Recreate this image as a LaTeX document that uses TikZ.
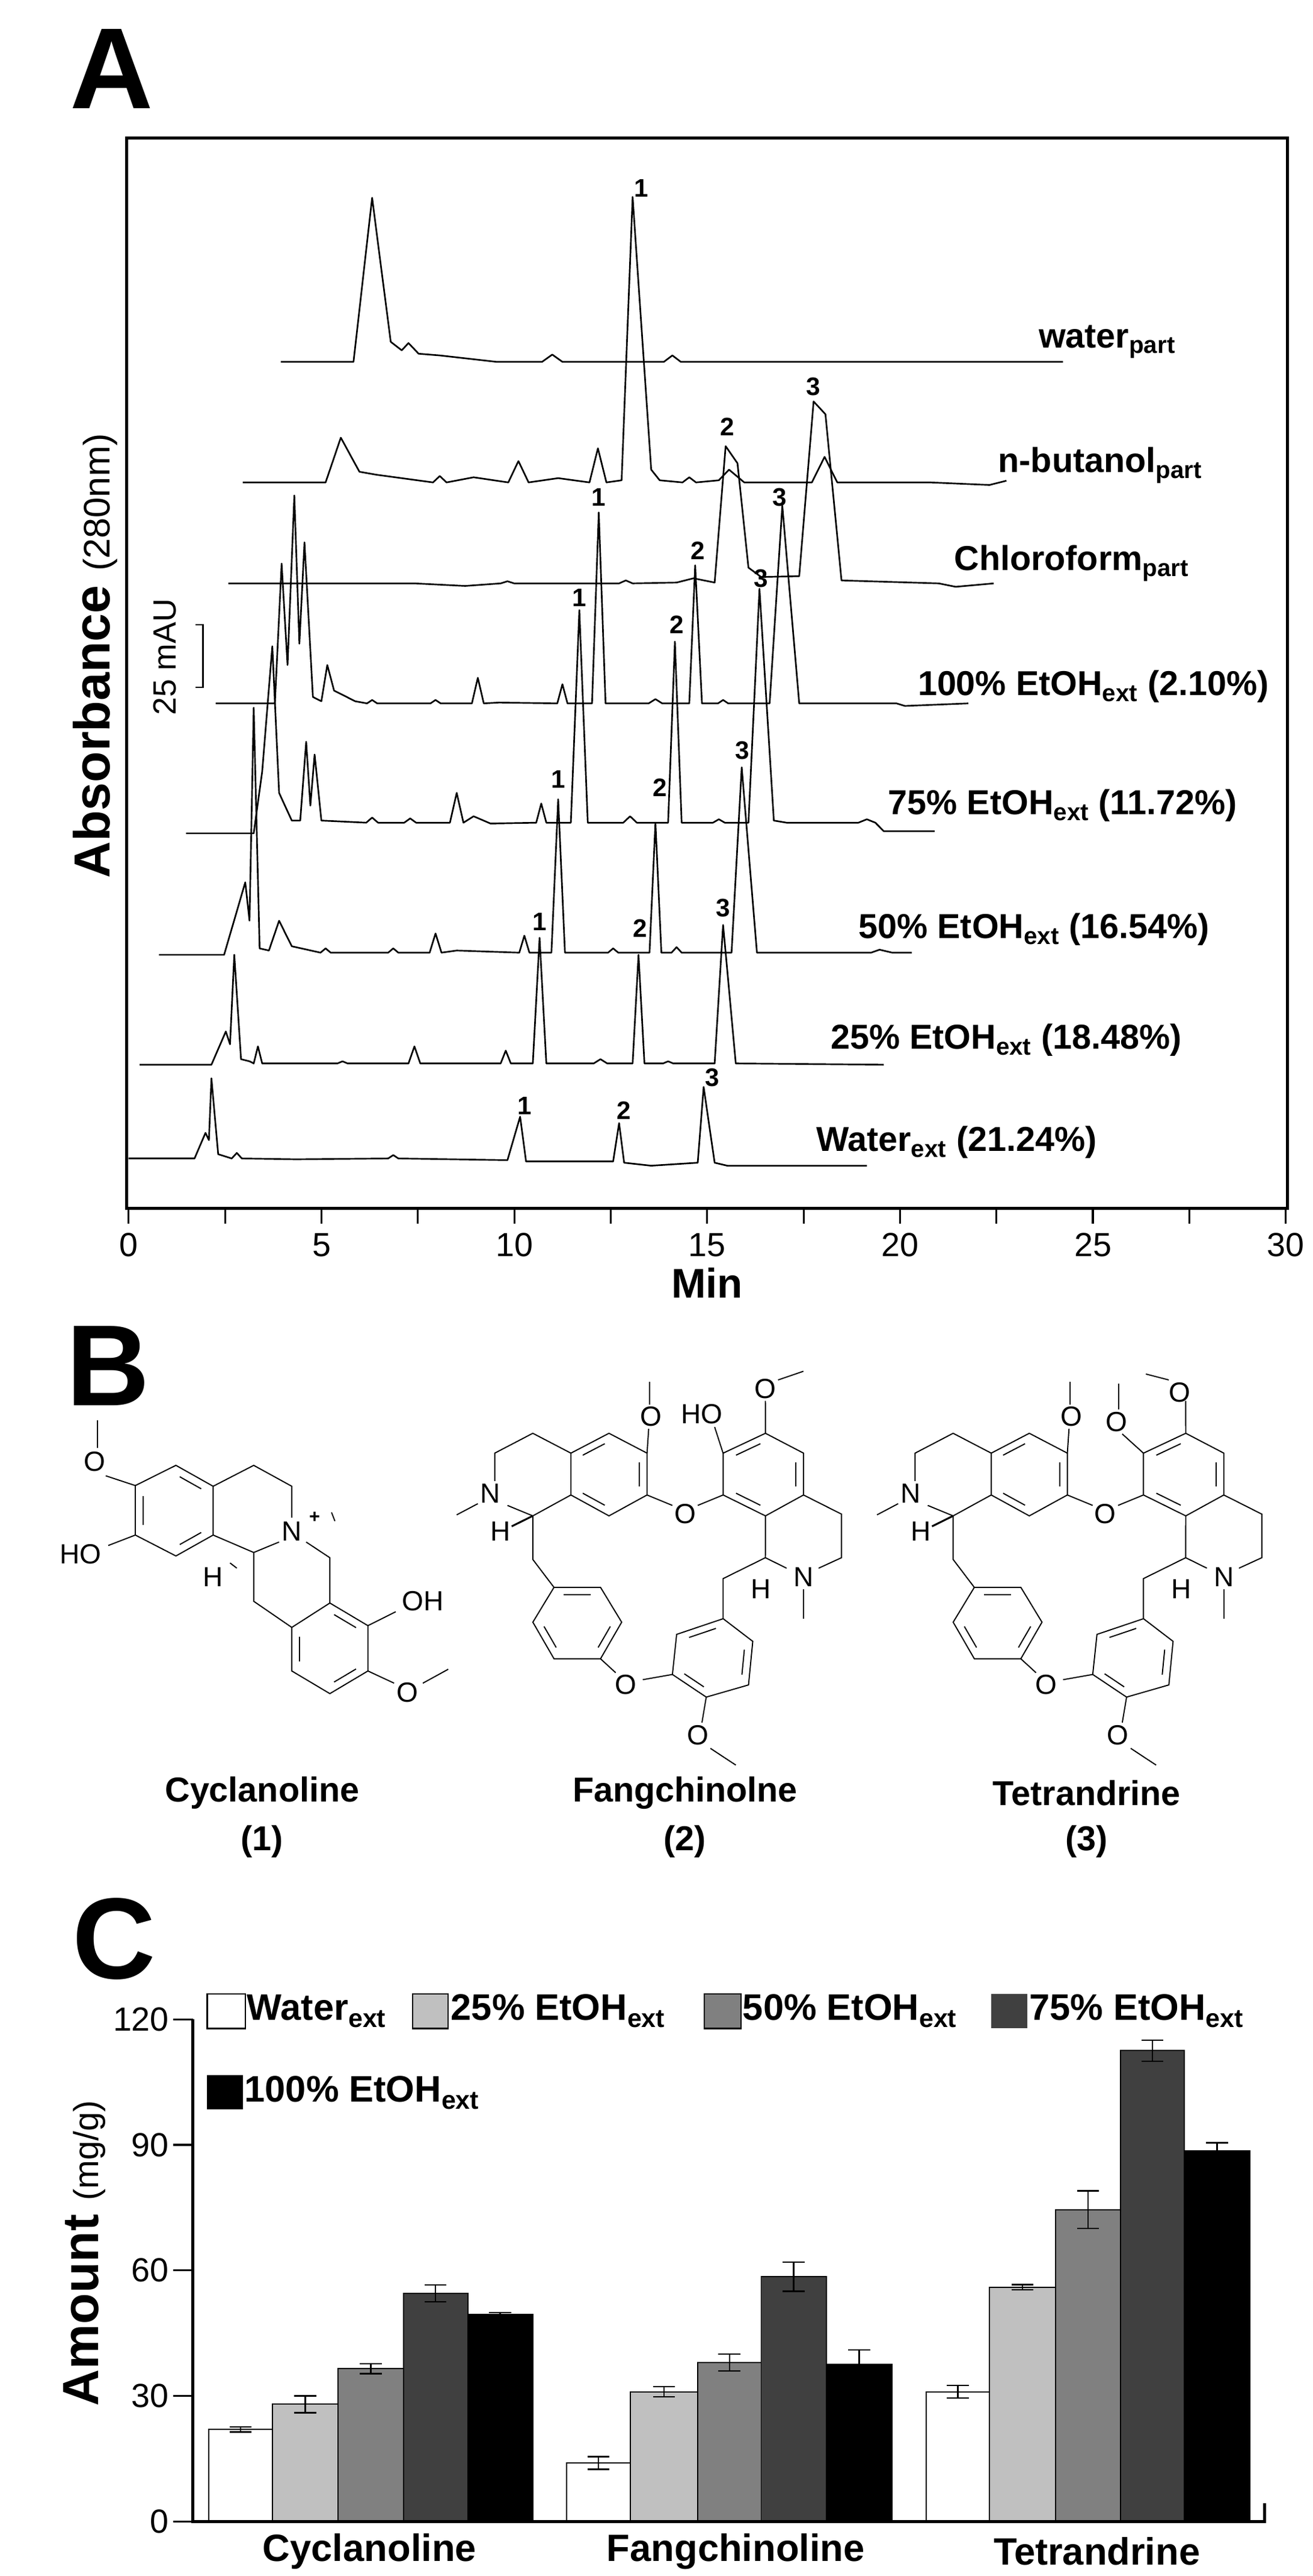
\documentclass[tikz,border=0pt]{standalone}
\usepackage{fontspec}
\setmainfont{Liberation Sans}
\usetikzlibrary{calc}
\definecolor{gA}{HTML}{C0C0C0}
\definecolor{gB}{HTML}{808080}
\definecolor{gC}{HTML}{404040}
\newcommand\pk[3]{-- ({#1-#3},\bl) -- (#1,#2) -- ({#1+#3},\bl)}
\newcommand\inr[3]{\draw ($ ($(#1)!.2!(#3)$)!.14!($(#2)!.2!(#3)$) $) -- ($ ($(#2)!.2!(#3)$)!.14!($(#1)!.2!(#3)$) $);}
\newcommand\mybar[5]{\filldraw[fill=#5,draw=black,line width=1pt] (#1,1435) rectangle (#2,{1435-9.125*#3});
 \draw[line width=1.3pt] ({(#1+#2)/2},{1435-9.125*(#3-#4)}) -- ({(#1+#2)/2},{1435-9.125*(#3+#4)})
 ({(#1+#2)/2-13},{1435-9.125*(#3-#4)}) -- ({(#1+#2)/2+13},{1435-9.125*(#3-#4)})
 ({(#1+#2)/2-13},{1435-9.125*(#3+#4)}) -- ({(#1+#2)/2+13},{1435-9.125*(#3+#4)});}
\newcommand\bisbenz{%
 \coordinate (p1) at (675,375); \coordinate (p2) at (720,318); \coordinate (p3) at (765,375);
 \coordinate (p4) at (765,495); \coordinate (p5) at (720,555); \coordinate (p6) at (675,495); \coordinate (pc) at (720,436);
 \draw (p1)--(p2)--(p3)--(p4)--(p5)--(p6)--cycle; \inr{p1}{p2}{pc}\inr{p3}{p4}{pc}\inr{p5}{p6}{pc}
 \draw (p1)--(630,318)--(585,375)--(585,455); \node[atm] (n1) at (580,490) {N};
 \draw (565,520)--(540,552); \draw (600,525)--(630,555)--(p6); \draw (630,555)--(630,680)--(655,760);
 \node[atm] (h1) at (592,600) {H}; \draw[line width=1.6pt] (605,585)--(630,555);
 \draw (p3)--(767,305); \node[atm] (o1) at (770,270) {O}; \draw (768,235)--(768,170);
 \draw (p4)--(795,525); \node[atm] (o2) at (810,550) {O}; \draw (825,525)--(855,495);
 \coordinate (q1) at (855,495); \coordinate (q2) at (855,375); \coordinate (q3) at (905,318);
 \coordinate (q4) at (950,375); \coordinate (q5) at (950,495); \coordinate (q6) at (905,555); \coordinate (qc) at (903,436);
 \draw (q1)--(q2)--(q3)--(q4)--(q5)--(q6)--cycle; \inr{q2}{q3}{qc}\inr{q4}{q5}{qc}\inr{q6}{q1}{qc}
 \draw (q3)--(905,225);
 \draw (q5)--(995,550)--(995,675)--(968,705); \node[atm] (n2) at (950,730) {N};
 \draw (950,765)--(950,850); \draw (930,705)--(905,675)--(q6); \draw (905,675)--(855,735)--(855,850);
 \node[atm] (h2) at (900,765) {H};
 \coordinate (r1) at (655,760); \coordinate (r2) at (710,760); \coordinate (r3) at (735,860);
 \coordinate (r4) at (710,965); \coordinate (r5) at (655,965); \coordinate (r6) at (630,860); \coordinate (rc) at (682,862);
 \draw (r1)--(r2)--(r3)--(r4)--(r5)--(r6)--cycle; \inr{r1}{r2}{rc}\inr{r3}{r4}{rc}\inr{r5}{r6}{rc}
 \draw (r4)--(728,1005); \node[atm] (o3) at (740,1040) {O}; \draw (760,1025)--(795,1010);
 \coordinate (s1) at (855,850); \coordinate (s2) at (890,915); \coordinate (s3) at (885,1040);
 \coordinate (s4) at (835,1075); \coordinate (s5) at (795,1010); \coordinate (s6) at (800,895); \coordinate (sc) at (843,964);
 \draw (s1)--(s2)--(s3)--(s4)--(s5)--(s6)--cycle; \inr{s6}{s1}{sc}\inr{s2}{s3}{sc}\inr{s4}{s5}{sc}
 \draw (s4)--(830,1148); \node[atm] (o4) at (825,1185) {O}; \draw (840,1222)--(870,1270);
}
\tikzset{trace/.style={line width=1.4pt,line join=round},
 tl/.style={font=\fontsize{30}{32}\selectfont\bfseries,anchor=west,inner sep=0pt},
 pl/.style={font=\fontsize{22}{24}\selectfont\bfseries,inner sep=0pt},
 tick/.style={font=\fontsize{29}{30}\selectfont,inner sep=0pt},
 atm/.style={font=\fontsize{24}{26}\selectfont,inner sep=0pt},
 panel/.style={font=\fontsize{100}{100}\selectfont\bfseries,inner sep=0pt},
 cname/.style={font=\fontsize{30}{32}\selectfont\bfseries,inner sep=0pt},
 leg/.style={font=\fontsize{32}{34}\selectfont\bfseries,anchor=west,inner sep=0pt}}
\begin{document}
\begin{tikzpicture}[x=0.5mm,y=-0.5mm]
\useasboundingbox (0,0) rectangle (800,1570.6);
\fill[white] (0,0) rectangle (800,1570.6);
% ---------- Panel A
\node[panel] (pA) at (68,42) {A};
\draw[line width=2.6pt] (77.3,84.2) rectangle (784.6,736.7);
\foreach \t in {0,2.5,...,30} {\draw[line width=1.6pt] ({78.4+23.51*\t},736.7) -- ({78.4+23.51*\t},746);}
\foreach \t in {0,5,...,30} {\node[tick] (tx\t) at ({78.4+23.51*\t},759) {\t};}
\node[font=\fontsize{36}{38}\selectfont\bfseries,inner sep=0pt] (min) at (431,782) {Min};
\node[rotate=90,inner sep=0pt] (ylab) at (58,400) {\fontsize{44}{46}\selectfont\bfseries Absorbance \fontsize{32}{34}\mdseries(280nm)};
\node[rotate=90,font=\fontsize{28}{30}\selectfont,inner sep=0pt] (mau) at (100.5,400.6) {25 mAU};
\draw[line width=1.2pt] (119,381)--(123.7,381)--(123.7,419)--(119,419);
\begin{scope}[shift={(0,73.3)},xscale=0.5155,yscale=0.2598]
 \def\bl{567}
 \draw[trace] (332,567) -- (418,567) -- (440,182) -- (462,520) -- (475,540) -- (483,523) -- (495,548) -- (520,552) -- (587,567) \pk{653}{550}{12} \pk{795}{552}{10} -- (1257,567);
 \def\bl{850}
 \draw[trace] (287,850) -- (385,850) -- (403,745) -- (425,825) -- (445,832) \pk{520}{835}{8} -- (560,838) \pk{613}{800}{12} -- (660,840) \pk{707}{770}{10} -- (735,845) -- (748,180) -- (770,820) -- (780,845) \pk{815}{838}{8} -- (850,845) -- (862,820) -- (880,850) -- (960,850) -- (975,790) -- (990,850) -- (1100,850) -- (1170,856) -- (1190,846);
 \def\bl{1087}
 \draw[trace] (270,1087) -- (490,1087) -- (550,1093) \pk{600}{1082}{8} \pk{740}{1080}{8} -- (800,1085) -- (820,1075) -- (845,1085) -- (858,765) -- (872,805) -- (885,1050) -- (900,1072) -- (945,1070) -- (962,660) -- (976,690) -- (995,1080) -- (1110,1087) -- (1130,1095) -- (1175,1087);
 \node[pl] (l1a) at (758,160) {1}; \node[pl] (l2a) at (860,720) {2}; \node[pl] (l3a) at (962,625) {3};
 \node[pl] (l1b) at (708,885) {1}; \node[pl] (l2b) at (825,1010) {2}; \node[pl] (l3b) at (922,885) {3};
 \node[pl] (l1c) at (685,1120) {1}; \node[pl] (l3c) at (900,1075) {3};
 \node[tl] (wp) at (1228,520) {water\textsubscript{part}};
 \node[tl] (bp) at (1180,810) {n-butanol\textsubscript{part}};
 \node[tl] (cp) at (1128,1040) {Chloroform\textsubscript{part}};
\end{scope}
\begin{scope}[shift={(0,366.5)},xscale=0.5155,yscale=0.2598]
 \def\bl{240}
 \draw[trace] (255,240) -- (325,240) -- (333,-88) -- (340,150) -- (348,-248) -- (354,100) -- (360,-138) -- (370,225) -- (380,235) -- (387,150) -- (395,210) -- (420,235) \pk{440}{232}{6} \pk{515}{232}{6} \pk{565}{180}{7} -- (590,238) \pk{665}{195}{6} -- (700,240) -- (708,-208) -- (716,240) \pk{775}{230}{8} -- (815,240) -- (822,-84) -- (830,240) \pk{855}{232}{6} -- (910,240) -- (925,-224) -- (945,240) -- (1060,240) -- (1070,246) -- (1145,240);
 \def\bl{520}
 \draw[trace] (220,545) -- (300,545) -- (310,400) -- (322,106) -- (330,450) -- (345,515) -- (355,515) -- (362,330) -- (367,480) -- (372,360) -- (380,515) \pk{440}{508}{7} \pk{485}{510}{7} \pk{540}{450}{8} -- (560,505) -- (580,522) \pk{640}{475}{6} -- (675,520) -- (685,21) -- (695,520) \pk{745}{505}{8} -- (790,520) -- (798,95) -- (806,520) \pk{850}{512}{7} -- (885,520) -- (898,-29) -- (915,515) -- (930,520) \pk{1025}{512}{10} -- (1045,540) -- (1105,540);
 \def\bl{825}
 \draw[trace] (188,830) -- (265,830) -- (290,660) -- (295,750) -- (300,250) -- (307,815) -- (318,820) -- (330,750) -- (345,810) \pk{385}{815}{6} \pk{465}{815}{6} \pk{515}{780}{7} -- (540,820) \pk{620}{785}{6} -- (652,825) -- (660,465) -- (668,825) \pk{725}{815}{6} -- (768,825) -- (775,520) -- (782,825) \pk{800}{812}{6} -- (865,825) -- (877,390) -- (895,825) -- (1030,825) -- (1040,818) -- (1055,825) -- (1078,825);
 \def\bl{1085}
 \draw[trace] (165,1088) -- (250,1088) -- (267,1010) -- (272,1040) -- (277,830) -- (285,1075) -- (295,1080) \pk{305}{1045}{5} -- (350,1085) \pk{405}{1080}{6} \pk{490}{1045}{7} -- (520,1085) \pk{598}{1055}{6} -- (630,1085) -- (638,790) -- (646,1085) \pk{710}{1075}{8} -- (748,1085) -- (755,830) -- (762,1085) \pk{790}{1080}{6} -- (845,1085) -- (855,760) -- (870,1085) -- (1045,1088);
 \def\bl{1308}
 \draw[trace] (152,1308) -- (230,1308) -- (243,1248) -- (247,1265) -- (250,1120) -- (258,1298) \pk{280}{1295}{6} -- (350,1310) \pk{465}{1300}{6} -- (600,1312) -- (615,1210) -- (622,1315) -- (725,1315) -- (732,1225) -- (738,1318) -- (770,1325) -- (825,1318) -- (832,1140) -- (845,1318) -- (860,1325) -- (1025,1325);
 \node[pl] (l2c) at (800,55) {2};
 \node[pl] (l1d) at (660,418) {1}; \node[pl] (l2d) at (780,438) {2}; \node[pl] (l3d) at (878,350) {3};
 \node[pl] (l1e) at (638,752) {1}; \node[pl] (l2e) at (757,768) {2}; \node[pl] (l3e) at (855,720) {3};
 \node[pl] (l1f) at (620,1185) {1}; \node[pl] (l2f) at (738,1195) {2}; \node[pl] (l3f) at (842,1118) {3};
 \node[tl] (e100) at (1085,200) {100\% EtOH\textsubscript{ext} (2.10\%)};
 \node[tl] (e75) at (1050,480) {75\% EtOH\textsubscript{ext} (11.72\%)};
 \node[tl] (e50) at (1015,770) {50\% EtOH\textsubscript{ext} (16.54\%)};
 \node[tl] (e25) at (982,1030) {25\% EtOH\textsubscript{ext} (18.48\%)};
 \node[tl] (ew) at (965,1270) {Water\textsubscript{ext} (21.24\%)};
\end{scope}
% ---------- Panel B
\begin{scope}[shift={(0,806.3)},xscale=0.5155,yscale=0.2125,line width=1pt]
 \node[panel] (pB) at (128,125) {B};
 \coordinate (a1) at (160,468); \coordinate (a2) at (208,410); \coordinate (a3) at (252,470);
 \coordinate (a4) at (252,610); \coordinate (a5) at (208,670); \coordinate (a6) at (160,610); \coordinate (ac) at (206,540);
 \draw (a1)--(a2)--(a3)--(a4)--(a5)--(a6)--cycle; \inr{a2}{a3}{ac}\inr{a6}{a1}{ac}\inr{a4}{a5}{ac}
 \draw (a1)--(125,440); \node[atm] (oc1) at (112,400) {O}; \draw (115,360)--(115,280);
 \draw (a6)--(128,640); \node[atm] (hoc) at (95,665) {HO};
 \draw (a3)--(300,410)--(345,470)--(345,560); \node[atm] (nc) at (345,600) {N}; \node[font=\fontsize{16}{16}\selectfont\bfseries,inner sep=0pt] (plus) at (372,560) {+};
 \draw (392,545)--(396,570);
 \draw (330,630)--(300,660)--(a4); \draw (362,630)--(390,675)--(390,805);
 \draw (300,660)--(300,800)--(345,875);
 \node[atm] (hc) at (252,730) {H}; \draw (272,690)--(280,705);
 \coordinate (d1) at (390,805); \coordinate (d2) at (435,870); \coordinate (d3) at (435,1000);
 \coordinate (d4) at (390,1065); \coordinate (d5) at (345,1000); \coordinate (d6) at (345,875); \coordinate (dc) at (390,935);
 \draw (d1)--(d2)--(d3)--(d4)--(d5)--(d6)--cycle; \inr{d1}{d2}{dc}\inr{d3}{d4}{dc}\inr{d5}{d6}{dc}
 \draw (d2)--(468,830); \node[atm] (ohc) at (500,800) {OH};
 \draw (d3)--(466,1035); \node[atm] (oc2) at (482,1062) {O}; \draw (500,1035)--(530,995);
 \bisbenz
 \node[atm] (hof) at (830,262) {HO}; \draw (855,375)--(845,300);
 \node[atm] (of) at (905,190) {O}; \draw (920,165)--(950,140);
 \begin{scope}[shift={(497,0)}]
  \bisbenz
  \node[atm] (ot1) at (823,285) {O}; \draw (855,375)--(830,320); \draw (826,250)--(826,175);
  \node[atm] (ot2) at (898,200) {O}; \draw (885,165)--(858,148);
 \end{scope}
 \node[cname] (cy) at (310,1350) {Cyclanoline}; \node[cname] (cy1) at (310,1490) {(1)};
 \node[cname] (fa) at (810,1350) {Fangchinolne}; \node[cname] (fa1) at (810,1490) {(2)};
 \node[cname] (te) at (1285,1350) {Tetrandrine}; \node[cname] (te1) at (1285,1490) {(3)};
\end{scope}
% ---------- Panel C
\begin{scope}[shift={(0,1136.1)},xscale=0.5155,yscale=0.2796]
 \node[panel] (pC) at (135,165) {C};
 \mybar{247}{322}{22}{0.6}{white}\mybar{322}{400}{28}{2}{gA}\mybar{400}{477}{36.5}{1.2}{gB}\mybar{477}{553}{54.5}{2}{gC}\mybar{553}{630}{49.5}{0.4}{black}
 \mybar{670}{745}{14}{1.5}{white}\mybar{745}{825}{31}{1.2}{gA}\mybar{825}{900}{38}{2}{gB}\mybar{900}{977}{58.5}{3.5}{gC}\mybar{977}{1055}{37.5}{3.5}{black}
 \mybar{1095}{1170}{31}{1.5}{white}\mybar{1170}{1248}{56}{0.6}{gA}\mybar{1248}{1325}{74.5}{4.5}{gB}\mybar{1325}{1400}{112.5}{2.5}{gC}\mybar{1400}{1478}{88.5}{2}{black}
 \draw[line width=2.6pt] (228,340)--(228,1435)--(1495,1435)--(1495,1395);
 \foreach \v in {0,30,60,90,120} {\draw[line width=1.6pt] (205,{1435-9.125*\v})--(228,{1435-9.125*\v});
   \node[tick,anchor=east] (ty\v) at (200,{1435-9.125*\v}) {\v};}
 \node[rotate=90,inner sep=0pt] (amt) at (100,850) {\fontsize{44}{46}\selectfont\bfseries Amount \fontsize{30}{32}\mdseries(mg/g)};
 \node[cname,font=\fontsize{33}{35}\selectfont\bfseries] (x1) at (437,1500) {Cyclanoline};
 \node[cname,font=\fontsize{33}{35}\selectfont\bfseries] (x2) at (870,1500) {Fangchinoline};
 \node[cname,font=\fontsize{33}{35}\selectfont\bfseries] (x3) at (1297,1500) {Tetrandrine};
 \filldraw[fill=white,draw=black,line width=1.2pt] (245,285) rectangle (290,360);
 \filldraw[fill=gA,draw=black,line width=1.2pt] (488,285) rectangle (530,360);
 \filldraw[fill=gB,draw=black,line width=1.2pt] (833,285) rectangle (876,360);
 \fill[gC] (1172,285) rectangle (1215,360);
 \fill[black] (245,462) rectangle (287,537);
 \node[leg] (lg1) at (292,322) {Water\textsubscript{ext}};
 \node[leg] (lg2) at (533,322) {25\% EtOH\textsubscript{ext}};
 \node[leg] (lg3) at (878,322) {50\% EtOH\textsubscript{ext}};
 \node[leg] (lg4) at (1217,322) {75\% EtOH\textsubscript{ext}};
 \node[leg] (lg5) at (289,500) {100\% EtOH\textsubscript{ext}};
\end{scope}
\end{tikzpicture}
\end{document}
